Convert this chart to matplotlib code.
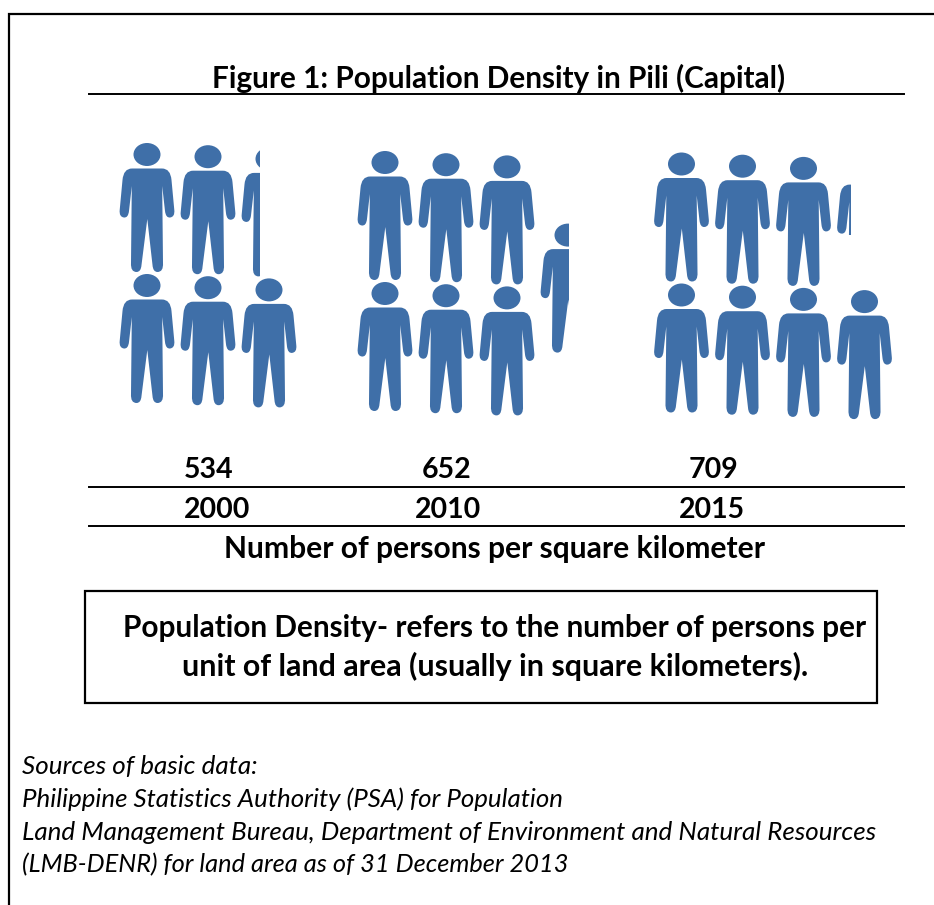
import matplotlib
matplotlib.use("Agg")
import matplotlib.pyplot as plt
from matplotlib.path import Path
from matplotlib.patches import PathPatch, Ellipse, Rectangle
from matplotlib.transforms import Affine2D

plt.rcParams['font.family'] = ['Lato', 'DejaVu Sans']

# datos
years = ['2000', '2010', '2015']
density = ['534', '652', '709']
top_full = [2, 3, 3]       # personas completas fila de arriba
bottom_full = [3, 3, 4]    # personas completas fila de abajo
partial = [0.34, 0.52, 0.25]  # parte visible de la ultima persona
title = 'Figure 1: Population Density in Pili (Capital)'
unit_label = 'Number of persons per square kilometer'
box_lines = ['Population Density- refers to the number of persons per',
             'unit of land area (usually in square kilometers).']
sources = ['Sources of basic data:',
           'Philippine Statistics Authority (PSA) for Population',
           'Land Management Bureau, Department of Environment and Natural Resources',
           '(LMB-DENR) for land area as of 31 December 2013']

# layout en pixeles
group_x = [147, 385, 681.5]
group_y = [143, 151, 152.5]
row_gap = 131
col_gap = 61
col_drop = 2.2
partial_drop = [0, 66, 0]
partial_height = [140, 140, 78]
density_x = [209, 447, 713]
year_x = [217, 448, 712]
source_size = [18.7, 18.6, 18.7, 18.3]
blue = '#3F6FA8'
W = 27  # media anchura de la persona


def person_path():
    # mitad derecha: lineas y curvas, y hacia abajo desde la parte alta de la cabeza
    segs = [('L', (15, 25.5)),
            ('C', (23.5, 25.5), (24.5, 37)),
            ('L', (27.3, 67)),
            ('C', (28, 74), (23, 74.5)),
            ('C', (18.8, 75), (18, 68)),
            ('L', (15.2, 43)),
            ('L', (16, 120)),
            ('C', (16.5, 129), (10.5, 129)),
            ('C', (6, 129), (5.5, 122)),
            ('L', (0.3, 76))]
    verts = [(0, 25.5)]
    codes = [Path.MOVETO]
    for s in segs:
        if s[0] == 'L':
            verts.append(s[1])
            codes.append(Path.LINETO)
        else:
            verts += [s[1], s[2]]
            codes += [Path.CURVE3, Path.CURVE3]
    # espejo para la mitad izquierda
    mirror = [(-x, y) for x, y in reversed(verts[:-1])]
    mirror_codes = list(reversed(codes[1:]))
    return Path(verts + mirror, codes + mirror_codes)


body = person_path()


def draw_person(ax, cx, top, clip_frac=1.0, clip_h=140):
    tr = Affine2D().translate(cx, top) + ax.transData
    body_patch = PathPatch(body, facecolor=blue, edgecolor='none', transform=tr)
    head = Ellipse((cx, top + 11.5), 27, 23, facecolor=blue, edgecolor='none')
    ax.add_patch(body_patch)
    ax.add_patch(head)
    if clip_frac < 1:
        clip = Rectangle((cx - W - 2, top - 2), 2 * W * clip_frac + 2, clip_h, transform=ax.transData)
        body_patch.set_clip_path(clip)
        head.set_clip_path(clip)


fig = plt.figure(figsize=(9.34, 9.05), dpi=100)
ax = fig.add_axes([0, 0, 1, 1])
ax.set_xlim(0, 934)
ax.set_ylim(905, 0)
ax.axis('off')

# marco exterior
ax.plot([8.5, 8.5, 934], [905, 14.5, 14.5], color='black', lw=1.6, solid_joinstyle='miter')

# titulo y reglas
ax.text(499, 78, title, fontsize=21.4, fontweight='bold', ha='center', va='center')
for y in [94, 486.5, 525.5]:
    ax.plot([89, 904], [y, y], color='black', lw=1.4)

# personas
for g in range(3):
    for row, full in enumerate([top_full[g], bottom_full[g]]):
        y0 = group_y[g] + row * row_gap
        for c in range(full):
            draw_person(ax, group_x[g] + c * col_gap, y0 + c * col_drop)
    c = top_full[g]
    draw_person(ax, group_x[g] + c * col_gap, group_y[g] + c * col_drop + partial_drop[g],
                partial[g], partial_height[g])

# valores y anios
for i in range(3):
    ax.text(density_x[i], 469.5, density[i], fontsize=20.5, fontweight='bold', ha='center', va='center')
    ax.text(year_x[i], 509.5, years[i], fontsize=20.5, fontweight='bold', ha='center', va='center')
ax.text(495, 548.5, unit_label, fontsize=21.6, fontweight='bold', ha='center', va='center')

# caja
ax.add_patch(Rectangle((85, 590.5), 792, 112.5, facecolor='white', edgecolor='black', lw=1.6))
ax.text(495, 627.5, box_lines[0], fontsize=21.4, fontweight='bold', ha='center', va='center')
ax.text(495, 666, box_lines[1], fontsize=21.9, fontweight='bold', ha='center', va='center')

# fuentes
for i, line in enumerate(sources):
    ax.text(22, 766 + i * 33, line, fontsize=source_size[i], fontstyle='italic', ha='left', va='center')

fig.savefig('out.png', dpi=100)
